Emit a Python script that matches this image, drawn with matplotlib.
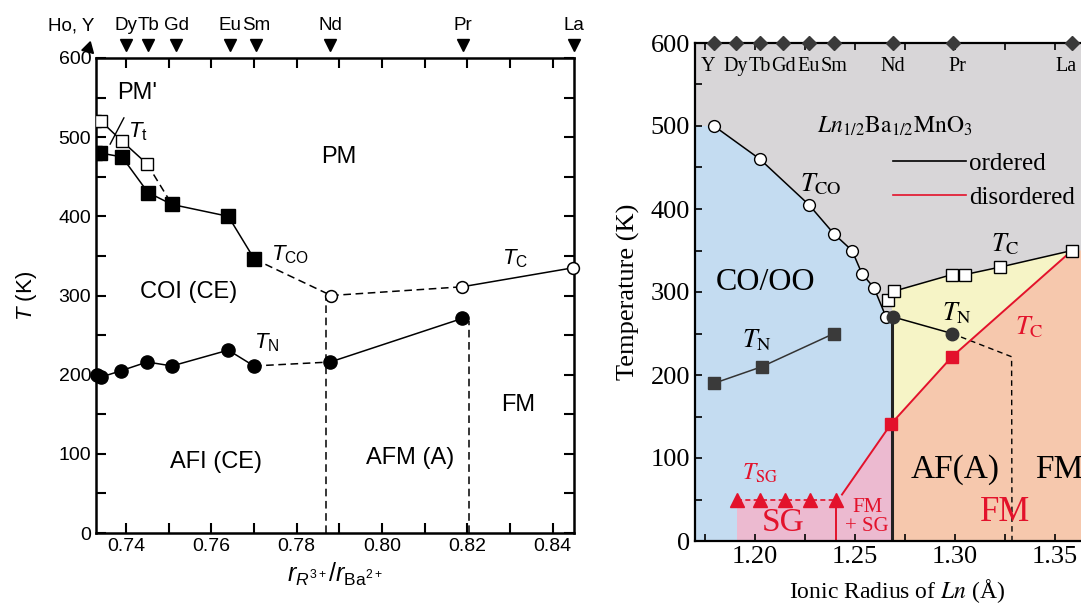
import matplotlib.pyplot as plt
from matplotlib.ticker import MultipleLocator, FixedLocator
from matplotlib.lines import Line2D

plt.rcParams['font.family'] = ['Liberation Sans', 'DejaVu Sans']
plt.rcParams['mathtext.fontset'] = 'custom'
plt.rcParams['mathtext.rm'] = 'Liberation Sans'
plt.rcParams['mathtext.it'] = 'Liberation Sans:italic'

# ---- left panel data (r_R / r_Ba, temperature in K) ----
elem_a = ['Ho, Y', 'Dy', 'Tb', 'Gd', 'Eu', 'Sm', 'Nd', 'Pr', 'La']
elem_a_x = [0.7311, 0.7400, 0.7452, 0.7518, 0.7644, 0.7705, 0.7879, 0.8190, 0.8450]

tco_x = [0.7328, 0.7340, 0.7391, 0.7452, 0.7508, 0.7640, 0.7701]
tco_T = [480, 480, 475, 430, 415, 400, 346]

tt_x = [0.7328, 0.7342, 0.7391, 0.7450]
tt_T = [520, 520, 495, 466]

tc_x = [0.7881, 0.8188, 0.8448]
tc_T = [300, 311, 335]

tn_x = [0.7332, 0.7342, 0.7389, 0.7450, 0.7508, 0.7640, 0.7700, 0.7879, 0.8188]
tn_T = [200, 197, 205, 216, 211, 231, 211, 216, 271]

bound_a_x = [0.7870, 0.8205]
bound_a_T = [300, 268]

# ---- right panel data (ionic radius in A, temperature in K) ----
elem_b = ['Y', 'Dy', 'Tb', 'Gd', 'Eu', 'Sm', 'Nd', 'Pr', 'La']
elem_b_x = [1.1795, 1.1904, 1.2025, 1.214, 1.227, 1.2395, 1.269, 1.299, 1.3585]

co_r = [1.1795, 1.2025, 1.227, 1.2395, 1.2485, 1.2535, 1.2595, 1.2655]
co_T = [500, 460, 405, 370, 350, 322, 305, 270]

tcb_r = [1.2665, 1.2695, 1.2985, 1.305, 1.3225, 1.3585]
tcb_T = [290, 301, 321, 321, 330, 350]

tnb_r = [1.269, 1.2985]
tnb_T = [270, 250]
tnb_tail_r = [1.2985, 1.3283, 1.3285]
tnb_tail_T = [250, 222, 0]

tnsq_r = [1.1795, 1.2034, 1.2395]
tnsq_T = [190, 210, 250]

red_r = [1.2435, 1.268, 1.2985, 1.3585]
red_T = [56, 141, 222, 350]

sg_r = [1.191, 1.2025, 1.215, 1.2275, 1.2403]
sg_T = [50, 50, 50, 50, 50]

ln_boundary = 1.2685

fig = plt.figure(figsize=(10.81, 6.04), dpi=100)

# ================= left panel =================
ax = fig.add_axes([96 / 1081, 71 / 604, 478 / 1081, 475 / 604])
ax.set_xlim(0.733, 0.845)
ax.set_ylim(0, 600)

ax.plot(tco_x, tco_T, '-', color='k', lw=1.1, marker='s', ms=10, mfc='k', mec='k', zorder=3)
ax.plot([tco_x[-1], tc_x[0]], [tco_T[-1], tc_T[0]], '--', color='k', lw=1.1, dashes=(5, 3))
ax.plot(tt_x, tt_T, '-', color='k', lw=1.1, marker='s', ms=9, mfc='white', mec='k', zorder=4)
ax.plot([tt_x[-1], tco_x[4]], [tt_T[-1], tco_T[4]], '--', color='k', lw=1.1, dashes=(5, 3))

ax.plot(tc_x[:2], tc_T[:2], '--', color='k', lw=1.1, dashes=(5, 3))
ax.plot(tc_x[1:], tc_T[1:], '-', color='k', lw=1.1)
ax.plot(tc_x, tc_T, 'o', ms=8.5, mfc='white', mec='k', mew=1.1, clip_on=False, zorder=4)

ax.plot(tn_x[:7], tn_T[:7], '-', color='k', lw=1.1)
ax.plot(tn_x[6:8], tn_T[6:8], '--', color='k', lw=1.1, dashes=(5, 3))
ax.plot(tn_x[7:], tn_T[7:], '-', color='k', lw=1.1)
ax.plot(tn_x, tn_T, 'o', ms=9.5, color='k', clip_on=False, zorder=3)

for bx, bT in zip(bound_a_x, bound_a_T):
    ax.plot([bx, bx], [0, bT], '--', color='k', lw=1.1, dashes=(5, 3))

# element markers above the top axis
ax.plot(elem_a_x[0], 613, marker=(3, 0, 225), ms=10, color='k', clip_on=False)
ax.plot(elem_a_x[1:], [616] * (len(elem_a_x) - 1), marker='v', ls='none',
        ms=9, color='k', clip_on=False)
for name, ex in zip(elem_a, elem_a_x):
    xx = ex - 0.004 if name == 'Ho, Y' else ex
    ax.text(xx, 641, name, ha='center', va='center', fontsize=13.5)

ax.xaxis.set_major_locator(MultipleLocator(0.02))
ax.xaxis.set_minor_locator(MultipleLocator(0.01))
ax.yaxis.set_major_locator(MultipleLocator(100))
ax.yaxis.set_minor_locator(MultipleLocator(50))
ax.xaxis.set_major_formatter(plt.FuncFormatter(lambda v, p: f'{v:.2f}'))
ax.tick_params(which='both', direction='in', top=True, right=True,
               length=7, width=1.5, labelsize=14)
for s in ax.spines.values():
    s.set_linewidth(1.8)

ax.set_ylabel('$T$ (K)', fontsize=16, labelpad=14)
ax.set_xlabel(r'$r_{R^{3+}}/r_{\mathrm{Ba}^{2+}}$', fontsize=18, labelpad=4)

ax.text(0.790, 475, 'PM', fontsize=17, ha='center', va='center')
ax.text(0.7546, 305, 'COI (CE)', fontsize=17, ha='center', va='center')
ax.text(0.761, 90, 'AFI (CE)', fontsize=17, ha='center', va='center')
ax.text(0.8066, 95, 'AFM (A)', fontsize=17, ha='center', va='center')
ax.text(0.832, 162, 'FM', fontsize=17, ha='center', va='center')
ax.text(0.7429, 507, r'$T_{\mathrm{t}}$', fontsize=16, ha='center', va='center')
ax.text(0.7785, 351, r'$T_{\mathrm{CO}}$', fontsize=16, ha='center', va='center')
ax.text(0.773, 240, r'$T_{\mathrm{N}}$', fontsize=16, ha='center', va='center')
ax.text(0.8312, 347, r'$T_{\mathrm{C}}$', fontsize=16, ha='center', va='center')
ax.annotate("PM'", xy=(0.7363, 491), xytext=(0.7426, 556), fontsize=17,
            ha='center', va='center',
            arrowprops=dict(arrowstyle='-', color='k', lw=1.0, shrinkA=9, shrinkB=0))

# ================= right panel =================
serif = ['Liberation Serif', 'DejaVu Serif']
ax2 = fig.add_axes([695 / 1081, 63 / 604, 460 / 1081, 498 / 604])
ax2.set_xlim(1.17, 1.40)
ax2.set_ylim(0, 600)
ax2.set_facecolor('#d8d6d8')

c_blue, c_yel, c_org, c_pink, c_red = '#c4dcf1', '#f6f4c6', '#f6c8ad', '#ecbad0', '#e3122b'

blue_poly = [(1.17, 0), (1.17, co_T[0])] + list(zip(co_r, co_T)) + [(ln_boundary, 270), (ln_boundary, 0)]
ax2.fill(*zip(*blue_poly), color=c_blue, lw=0, zorder=0)

org_poly = [(ln_boundary, 0)] + list(zip(red_r[1:], red_T[1:])) + [(1.40, red_T[-1]), (1.40, 0)]
ax2.fill(*zip(*org_poly), color=c_org, lw=0, zorder=0)

yel_poly = [(ln_boundary, red_T[1]), (ln_boundary, 280)] + list(zip(tcb_r[1:], tcb_T[1:])) \
    + list(zip(red_r[1:], red_T[1:]))[::-1]
ax2.fill(*zip(*yel_poly), color=c_yel, lw=0, zorder=0)

pink_poly = [(sg_r[0], 0), (sg_r[0], sg_T[0]), (sg_r[-1], sg_T[-1]),
             (red_r[0], red_T[0]), (red_r[1], red_T[1]), (ln_boundary, 0)]
ax2.fill(*zip(*pink_poly), color=c_pink, lw=0, zorder=0)

ax2.plot([ln_boundary, ln_boundary], [0, 270], color='#222222', lw=2.2, zorder=2)

ax2.plot(co_r, co_T, '-', color='k', lw=1.1, zorder=2)
ax2.plot(co_r, co_T, 'o', ms=8.5, mfc='white', mec='k', mew=1.0, zorder=3)
ax2.plot(tcb_r[1:], tcb_T[1:], '-', color='k', lw=1.1, zorder=2)
ax2.plot(tcb_r, tcb_T, 's', ms=8, mfc='white', mec='k', mew=1.0, zorder=4)

ax2.plot(tnb_tail_r, tnb_tail_T, '--', color='k', lw=1.0, dashes=(4, 3), zorder=2)
ax2.plot(tnb_r, tnb_T, '-', color='k', lw=1.1, zorder=2)
ax2.plot(tnb_r, tnb_T, 'o', ms=9, color='#333333', zorder=4)

ax2.plot(tnsq_r, tnsq_T, '-', color='#333333', lw=1.1, zorder=2)
ax2.plot(tnsq_r, tnsq_T, 's', ms=8.5, color='#3a3a3a', zorder=3)

ax2.plot(red_r, red_T, '-', color=c_red, lw=1.4, zorder=2)
ax2.plot(red_r[1:3], red_T[1:3], 's', ms=8.5, color=c_red, zorder=4)

ax2.plot(sg_r, sg_T, '--', color=c_red, lw=1.2, dashes=(3, 2), zorder=2)
ax2.plot(sg_r, sg_T, '^', ms=9.5, color=c_red, zorder=3)
ax2.plot([sg_r[-1], sg_r[-1]], [0, sg_T[-1]], '-', color=c_red, lw=1.4, zorder=2)

# element diamonds on top axis
ax2.plot(elem_b_x, [600] * len(elem_b_x), 'D', ms=7.5, color='#3a3a3a', clip_on=False, zorder=5)
label_shift = {'Y': -0.003, 'Pr': 0.002, 'La': -0.003}
for name, ex in zip(elem_b, elem_b_x):
    ax2.text(ex + label_shift.get(name, 0), 572, name, ha='center', va='center',
             fontsize=14.5, family=serif)

ax2.xaxis.set_major_locator(FixedLocator([1.20, 1.25, 1.30, 1.35]))
ax2.xaxis.set_minor_locator(MultipleLocator(0.025))
ax2.yaxis.set_major_locator(MultipleLocator(100))
ax2.yaxis.set_minor_locator(MultipleLocator(50))
ax2.xaxis.set_major_formatter(plt.FuncFormatter(lambda v, p: f'{v:.2f}'))
ax2.tick_params(which='both', direction='in', top=True, length=5, width=1.2, labelsize=19)
for lab in ax2.get_xticklabels() + ax2.get_yticklabels():
    lab.set_family(serif)
for s in ax2.spines.values():
    s.set_linewidth(1.6)

ax2.set_ylabel('Temperature (K)', fontsize=19, family=serif, labelpad=8)
ax2.set_xlabel('Ionic Radius of $Ln$ (Å)', fontsize=17, family=serif,
               math_fontfamily='stix')
ax2.xaxis.set_label_coords((1.271 - 1.17) / 0.23, -0.072)

mt = dict(math_fontfamily='stix', ha='center', va='center')
ax2.text(1.27, 500, r'$Ln_{1/2}\mathrm{Ba}_{1/2}\mathrm{MnO}_3$', fontsize=17, **mt)
ax2.text(1.233, 430, r'$T_{\mathrm{CO}}$', fontsize=19, **mt)
ax2.text(1.201, 242, r'$T_{\mathrm{N}}$', fontsize=19, **mt)
ax2.text(1.301, 275, r'$T_{\mathrm{N}}$', fontsize=19, **mt)
ax2.text(1.325, 357, r'$T_{\mathrm{C}}$', fontsize=19, **mt)
ax2.text(1.337, 258, r'$T_{\mathrm{C}}$', fontsize=19, color=c_red, **mt)
ax2.text(1.2025, 82, r'$T_{\mathrm{SG}}$', fontsize=17, color=c_red, **mt)
ax2.text(1.2055, 312, 'CO/OO', fontsize=23, family=serif, ha='center', va='center')
ax2.text(1.214, 22, 'SG', fontsize=24, family=serif, color=c_red, ha='center', va='center')
ax2.text(1.256, 29, 'FM\n+ SG', fontsize=15, family=serif, color=c_red,
         ha='center', va='center', linespacing=0.95)
ax2.text(1.30, 86, 'AF(A)', fontsize=24, family=serif, ha='center', va='center')
ax2.text(1.352, 86, 'FM', fontsize=24, family=serif, ha='center', va='center')
ax2.text(1.325, 34, 'FM', fontsize=25, family=serif, color=c_red, ha='center', va='center')

handles = [Line2D([], [], color='k', lw=1.2), Line2D([], [], color=c_red, lw=1.2)]
ax2.legend(handles, ['ordered', 'disordered'], loc='upper left',
           bbox_to_anchor=((1.269 - 1.17) / 0.23, 0.78), frameon=False,
           prop={'family': serif, 'size': 18}, handlelength=2.9, handletextpad=0.15,
           labelspacing=0.45, borderpad=0, borderaxespad=0)

fig.savefig('out.png', dpi=100)
